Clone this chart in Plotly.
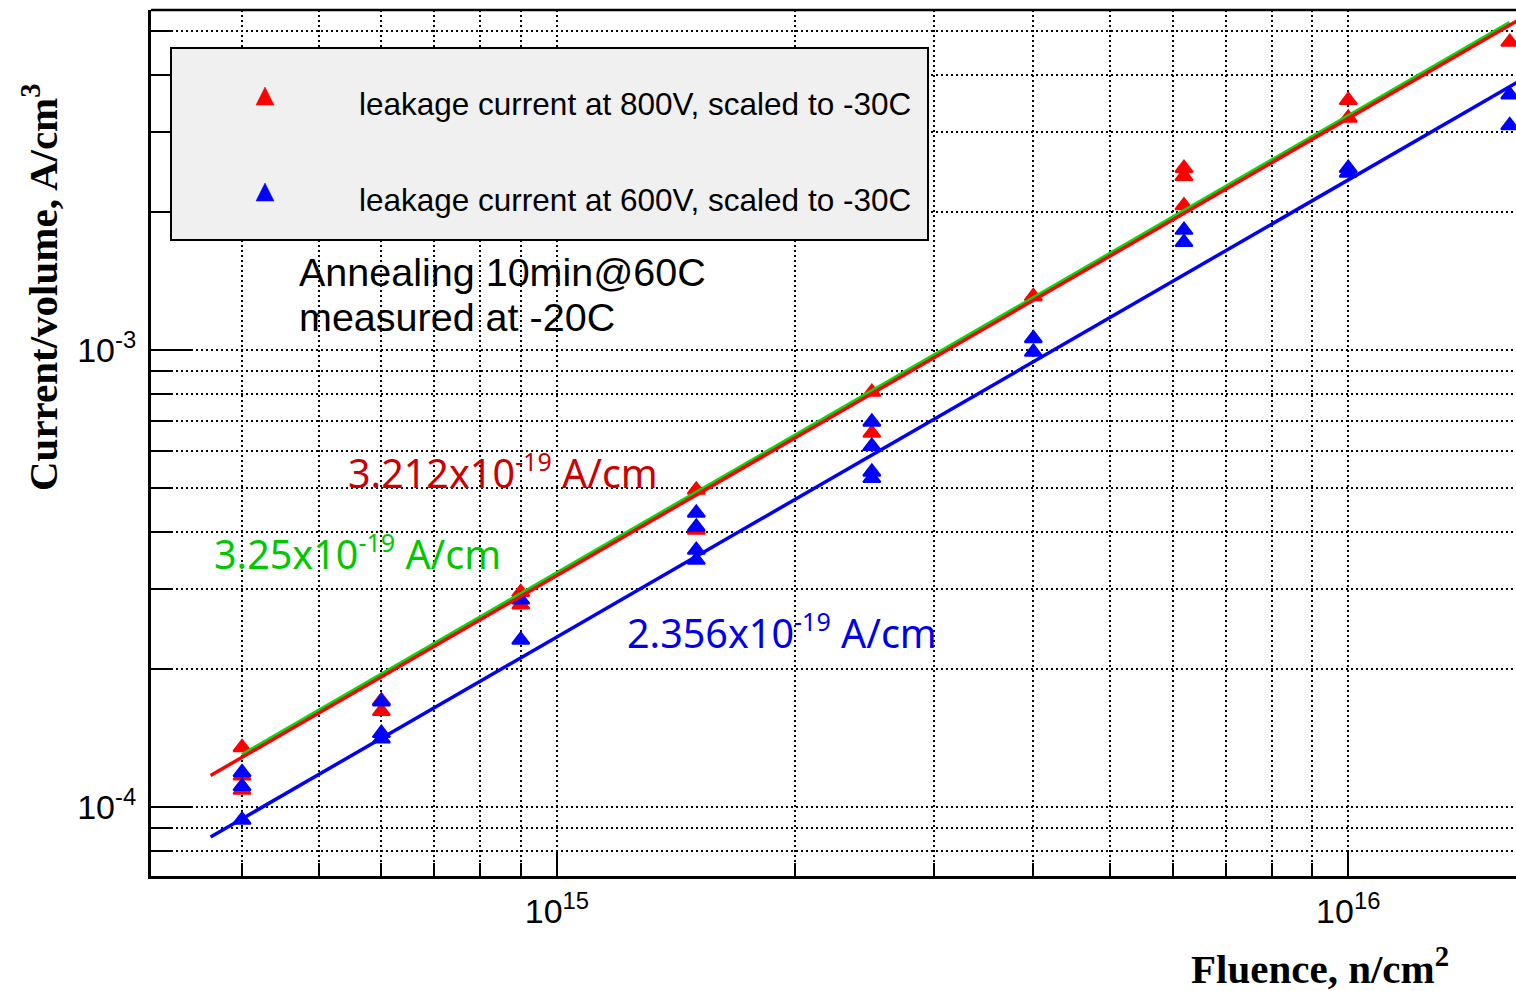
import plotly.graph_objects as go

# ---------------- data ----------------
fluence_800 = [4e14, 4e14, 4e14, 6e14, 6e14, 9e14, 9e14, 1.5e15, 1.5e15,
               2.5e15, 2.5e15, 4e15, 6.2e15, 6.2e15, 6.2e15, 1e16, 1e16, 1.6e16]
current_800 = [1.35e-4, 1.17e-4, 1.09e-4, 1.71e-4, 1.62e-4, 2.95e-4, 2.77e-4, 4.94e-4, 4.04e-4,
               8.09e-4, 6.58e-4, 1.31e-3, 2.50e-3, 2.40e-3, 2.07e-3, 3.52e-3, 3.22e-3, 4.72e-3]

fluence_600 = [4e14, 4e14, 4e14, 6e14, 6e14, 6e14, 9e14, 9e14,
               1.5e15, 1.5e15, 1.5e15, 1.5e15, 2.5e15, 2.5e15, 2.5e15, 2.5e15,
               4e15, 4e15, 6.2e15, 6.2e15, 1e16, 1e16, 1.6e16, 1.6e16]
current_600 = [1.19e-4, 1.11e-4, 9.37e-5, 1.70e-4, 1.45e-4, 1.41e-4, 2.84e-4, 2.32e-4,
               4.40e-4, 4.10e-4, 3.65e-4, 3.47e-4, 6.96e-4, 6.16e-4, 5.41e-4, 5.24e-4,
               1.06e-3, 9.9e-4, 1.83e-3, 1.72e-3, 2.50e-3, 2.44e-3, 3.62e-3, 3.10e-3]

# fit lines (end points)
fit_800_x = [3.65e14, 1.7e16]
fit_800_y = [1.172e-4, 5.46e-3]
fit_green_x = [4e14, 1.6e16]
fit_green_y = [1.30e-4, 5.20e-3]
fit_600_x = [3.65e14, 1.7e16]
fit_600_y = [8.60e-5, 4.005e-3]

legend_labels = ["leakage current at 800V, scaled to -30C",
                 "leakage current at 600V, scaled to -30C"]
SUP = "<sup><span style='font-size:25px'>-19</span></sup>"
label_800 = "3.212x10" + SUP + " A/cm"
label_green = "3.25x10" + SUP + " A/cm"
label_600 = "2.356x10" + SUP + " A/cm"
note_lines = ["Annealing 10min@60C", "measured at -20C"]

x_major = [1e15, 1e16]
x_major_text = ["10<sup>15</sup>", "10<sup>16</sup>"]
x_minor = [4e14, 5e14, 6e14, 7e14, 8e14, 9e14,
           2e15, 3e15, 4e15, 5e15, 6e15, 7e15, 8e15, 9e15]
y_major = [1e-4, 1e-3]
y_major_text = ["10<sup>-4</sup>", "10<sup>-3</sup>"]
y_minor = [8e-5, 9e-5, 2e-4, 3e-4, 4e-4, 5e-4, 6e-4, 7e-4, 8e-4, 9e-4,
           2e-3, 3e-3, 4e-3, 5e-3]

# ---------------- layout geometry ----------------
W, H = 1516, 991
L, R, T, B = 151, 0, 10, 115
PW, PH = W - L - R, H - T - B


def px(x):
    return (x - L) / PW


def py(y):
    return (H - B - y) / PH


RED = "#ff0000"
BLUE = "#0000ff"
GREEN = "#00e000"
GRID_DASH = "2px,3px"
GRID_W = 1.6

fig = go.Figure()

fig.add_trace(go.Scatter(x=fluence_800, y=current_800, mode="markers",
                         marker=dict(symbol="triangle-up", size=15, color=RED,
                                     line=dict(color=RED, width=2)),
                         name=legend_labels[0], showlegend=False))
fig.add_trace(go.Scatter(x=fluence_600, y=current_600, mode="markers",
                         marker=dict(symbol="triangle-up", size=15, color=BLUE,
                                     line=dict(color=BLUE, width=2)),
                         name=legend_labels[1], showlegend=False))
fig.add_trace(go.Scatter(x=fit_green_x, y=fit_green_y, mode="lines",
                         line=dict(color=GREEN, width=4), showlegend=False))
fig.add_trace(go.Scatter(x=fit_800_x, y=fit_800_y, mode="lines",
                         line=dict(color=RED, width=3.5), showlegend=False))
fig.add_trace(go.Scatter(x=fit_600_x, y=fit_600_y, mode="lines",
                         line=dict(color=BLUE, width=3.5), showlegend=False))

axis_common = dict(
    type="log", showline=True, linecolor="black", linewidth=3, mirror=False,
    ticks="inside", tickwidth=2, tickcolor="black", tickmode="array",
    showgrid=True, gridcolor="black", gridwidth=GRID_W, griddash=GRID_DASH,
    zeroline=False,
    tickfont=dict(family="Liberation Sans, Arial, sans-serif", size=34, color="black"),
)

fig.update_xaxes(
    **axis_common,
    range=[14.487, 16.212],
    tickvals=x_major, ticktext=x_major_text, ticklen=24,
    ticklabelstandoff=3,
    minor=dict(tickmode="array", tickvals=x_minor, ticks="inside", ticklen=13,
               tickwidth=2, tickcolor="black", showgrid=True, gridcolor="black",
               gridwidth=GRID_W, griddash=GRID_DASH),
)
fig.update_yaxes(
    **axis_common,
    range=[-4.151, -2.256],
    tickvals=y_major, ticktext=y_major_text, ticklen=42,
    ticklabelstandoff=5,
    minor=dict(tickmode="array", tickvals=y_minor, ticks="inside", ticklen=21,
               tickwidth=2, tickcolor="black", showgrid=True, gridcolor="black",
               gridwidth=GRID_W, griddash=GRID_DASH),
)

shapes = [
    # top frame line
    dict(type="line", xref="paper", yref="paper", x0=0, x1=1, y0=1, y1=1,
         line=dict(color="black", width=2.5), layer="above"),
    # legend box
    dict(type="rect", xref="paper", yref="paper", x0=px(171), x1=px(928),
         y0=py(240), y1=py(48), fillcolor="#f0f0f0",
         line=dict(color="black", width=2), layer="above"),
]


def tri(cx, cy, half, color):
    path = (f"M{px(cx - half)},{py(cy + half)} L{px(cx + half)},{py(cy + half)} "
            f"L{px(cx)},{py(cy - half)} Z")
    return dict(type="path", xref="paper", yref="paper", path=path,
                fillcolor=color, line=dict(color=color, width=0.5), layer="above")


shapes.append(tri(265, 96, 9, RED))
shapes.append(tri(265, 192, 9, BLUE))

annotations = []
SANS = "Liberation Sans, Arial, sans-serif"
LBL = "Noto Sans, DejaVu Sans, sans-serif"
SERIF = "Liberation Serif, Times New Roman, serif"

for text, cy in zip(legend_labels, [104, 200]):
    annotations.append(dict(text=text, xref="paper", yref="paper", x=px(357), y=py(cy),
                            xanchor="left", yanchor="middle", showarrow=False,
                            font=dict(family=SANS, size=31.5, color="black")))

for text, cy in zip(note_lines, [271.5, 316.5]):
    annotations.append(dict(text=text, xref="paper", yref="paper", x=px(297), y=py(cy),
                            xanchor="left", yanchor="middle", showarrow=False,
                            font=dict(family=SANS, size=39.5, color="black")))

for text, x0, cy, col in [(label_800, 346, 472, "#cc0000"),
                          (label_green, 212, 553, "#00c800"),
                          (label_600, 625, 632, "#0000ee")]:
    annotations.append(dict(text=text, xref="paper", yref="paper", x=px(x0), y=py(cy),
                            xanchor="left", yanchor="middle", showarrow=False,
                            font=dict(family=LBL, size=39.5, color=col)))

annotations.append(dict(text="<b>Current/volume, A/cm<sup>3</sup></b>", xref="paper", yref="paper",
                        x=px(40), y=py(287), xanchor="center", yanchor="middle",
                        textangle=-90, showarrow=False,
                        font=dict(family=SERIF, size=41, color="black")))
annotations.append(dict(text="<b>Fluence, n/cm<sup>2</sup></b>", xref="paper", yref="paper",
                        x=px(1320), y=py(966), xanchor="center", yanchor="middle",
                        showarrow=False,
                        font=dict(family=SERIF, size=41, color="black")))

fig.update_layout(
    width=W, height=H,
    margin=dict(l=L, r=R, t=T, b=B, pad=0),
    paper_bgcolor="white", plot_bgcolor="white",
    showlegend=False,
    shapes=shapes,
    annotations=annotations,
)

fig.write_html("out.html", config={"displayModeBar": False},
               post_script="document.body.style.margin='0px';document.body.style.overflow='hidden';")
